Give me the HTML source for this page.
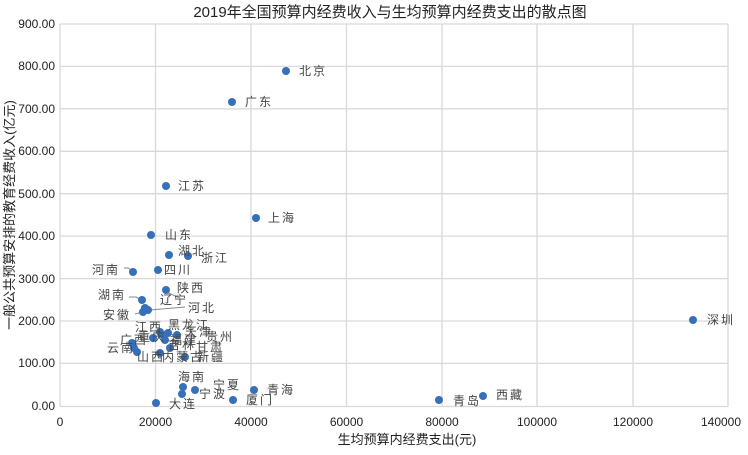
<!DOCTYPE html>
<html><head><meta charset="utf-8"><style>
body{margin:0;background:#fff}
svg text{font-family:"Liberation Sans","Noto Sans CJK SC",sans-serif}
</style></head><body>
<svg width="748" height="450" xmlns="http://www.w3.org/2000/svg">
<rect width="748" height="450" fill="#fff"/>
<g stroke="#d9d9d9" stroke-width="1.3">
<line x1="60" y1="24" x2="728" y2="24"/><line x1="60" y1="66.4" x2="728" y2="66.4"/>
<line x1="60" y1="108.8" x2="728" y2="108.8"/><line x1="60" y1="151.3" x2="728" y2="151.3"/>
<line x1="60" y1="193.7" x2="728" y2="193.7"/><line x1="60" y1="236.1" x2="728" y2="236.1"/>
<line x1="60" y1="278.6" x2="728" y2="278.6"/><line x1="60" y1="321" x2="728" y2="321"/>
<line x1="60" y1="363.4" x2="728" y2="363.4"/><line x1="60" y1="406.5" x2="728" y2="406.5"/>
<line x1="60" y1="24" x2="60" y2="406.5"/><line x1="155.5" y1="24" x2="155.5" y2="406.5"/>
<line x1="251" y1="24" x2="251" y2="406.5"/><line x1="346.5" y1="24" x2="346.5" y2="406.5"/>
<line x1="442" y1="24" x2="442" y2="406.5"/><line x1="537" y1="24" x2="537" y2="406.5"/>
<line x1="633" y1="24" x2="633" y2="406.5"/><line x1="728" y1="24" x2="728" y2="406.5"/>
</g>
<text x="390" y="17" font-size="15" text-anchor="middle" fill="#222">2019年全国预算内经费收入与生均预算内经费支出的散点图</text>
<g font-size="12" fill="#222" text-anchor="end">
<text x="55" y="28">900.00</text><text x="55" y="70">800.00</text><text x="55" y="113">700.00</text>
<text x="55" y="155">600.00</text><text x="55" y="198">500.00</text><text x="55" y="240">400.00</text>
<text x="55" y="283">300.00</text><text x="55" y="325">200.00</text><text x="55" y="367">100.00</text>
<text x="55" y="410">0.00</text>
</g>
<g font-size="12" fill="#222" text-anchor="middle">
<text x="60" y="426">0</text><text x="155.5" y="426">20000</text><text x="251" y="426">40000</text>
<text x="346.5" y="426">60000</text><text x="442" y="426">80000</text><text x="537" y="426">100000</text>
<text x="633" y="426">120000</text><text x="721" y="426">140000</text>
</g>
<text x="407" y="444" font-size="13" text-anchor="middle" fill="#222">生均预算内经费支出(元)</text>
<text transform="translate(14,215) rotate(-90)" font-size="13" text-anchor="middle" fill="#222">一般公共预算安排的教育经费收入(亿元)</text>
<g stroke="#888" stroke-width="1" fill="none">
<polyline points="124,268 128,268 133,271"/><polyline points="129,297 136,297 142,300"/>
<polyline points="135,314 143,312"/><polyline points="150,310 185,307"/>
<polyline points="166,292 180,298"/>
</g>
<g fill="#3570b8">
<circle cx="286" cy="71" r="4"/><circle cx="232" cy="102" r="4"/><circle cx="166" cy="186" r="4"/>
<circle cx="256" cy="218" r="4"/><circle cx="151" cy="235" r="4"/><circle cx="169" cy="255" r="4"/>
<circle cx="188" cy="256" r="4"/><circle cx="133" cy="272" r="4"/><circle cx="158" cy="270" r="4"/>
<circle cx="166" cy="290" r="4"/><circle cx="142" cy="300" r="4"/><circle cx="145" cy="308" r="4"/>
<circle cx="148" cy="310" r="4"/><circle cx="143" cy="312" r="4"/><circle cx="160" cy="332" r="4"/>
<circle cx="163" cy="335" r="4"/><circle cx="168" cy="333" r="4"/><circle cx="153" cy="338" r="4"/>
<circle cx="165" cy="340" r="4"/><circle cx="177" cy="335" r="4"/><circle cx="132" cy="343" r="4"/>
<circle cx="134" cy="348" r="4"/><circle cx="137" cy="352" r="4"/><circle cx="170" cy="348" r="4"/>
<circle cx="160" cy="353" r="4"/><circle cx="185" cy="357" r="4"/><circle cx="183" cy="387" r="4"/>
<circle cx="195" cy="390" r="4"/><circle cx="182" cy="394" r="4"/><circle cx="156" cy="403" r="4"/>
<circle cx="233" cy="400" r="4"/><circle cx="254" cy="390" r="4"/>
<circle cx="693" cy="320" r="4"/><circle cx="439" cy="400" r="4"/><circle cx="483" cy="396" r="4"/>
</g>
<g font-size="12" fill="#444" letter-spacing="2">
<text x="299" y="75">北京</text><text x="245" y="106">广东</text><text x="178" y="190">江苏</text>
<text x="268" y="222">上海</text><text x="165" y="239">山东</text><text x="178" y="255">湖北</text>
<text x="201" y="262">浙江</text><text x="92" y="274">河南</text><text x="164" y="274">四川</text>
<text x="177" y="292">陕西</text><text x="98" y="299">湖南</text><text x="160" y="304">辽宁</text>
<text x="188" y="312">河北</text><text x="103" y="319">安徽</text><text x="135" y="331">江西</text>
<text x="168" y="329">黑龙江</text><text x="185" y="336">天津</text><text x="120" y="344">广西</text>
<text x="138" y="341">重庆</text><text x="206" y="341">贵州</text><text x="170" y="344">福建</text>
<text x="107" y="352">云南</text><text x="168" y="349">吉林</text><text x="196" y="351">甘肃</text>
<text x="137" y="361">山西</text><text x="162" y="361">内蒙古</text><text x="197" y="361">新疆</text>
<text x="178" y="381">海南</text><text x="213" y="389">宁夏</text><text x="199" y="398">宁波</text>
<text x="169" y="408">大连</text><text x="246" y="404">厦门</text><text x="267" y="394">青海</text>
<text x="707" y="324">深圳</text><text x="453" y="405">青岛</text><text x="496" y="399">西藏</text>
</g>
</svg>
</body></html>
